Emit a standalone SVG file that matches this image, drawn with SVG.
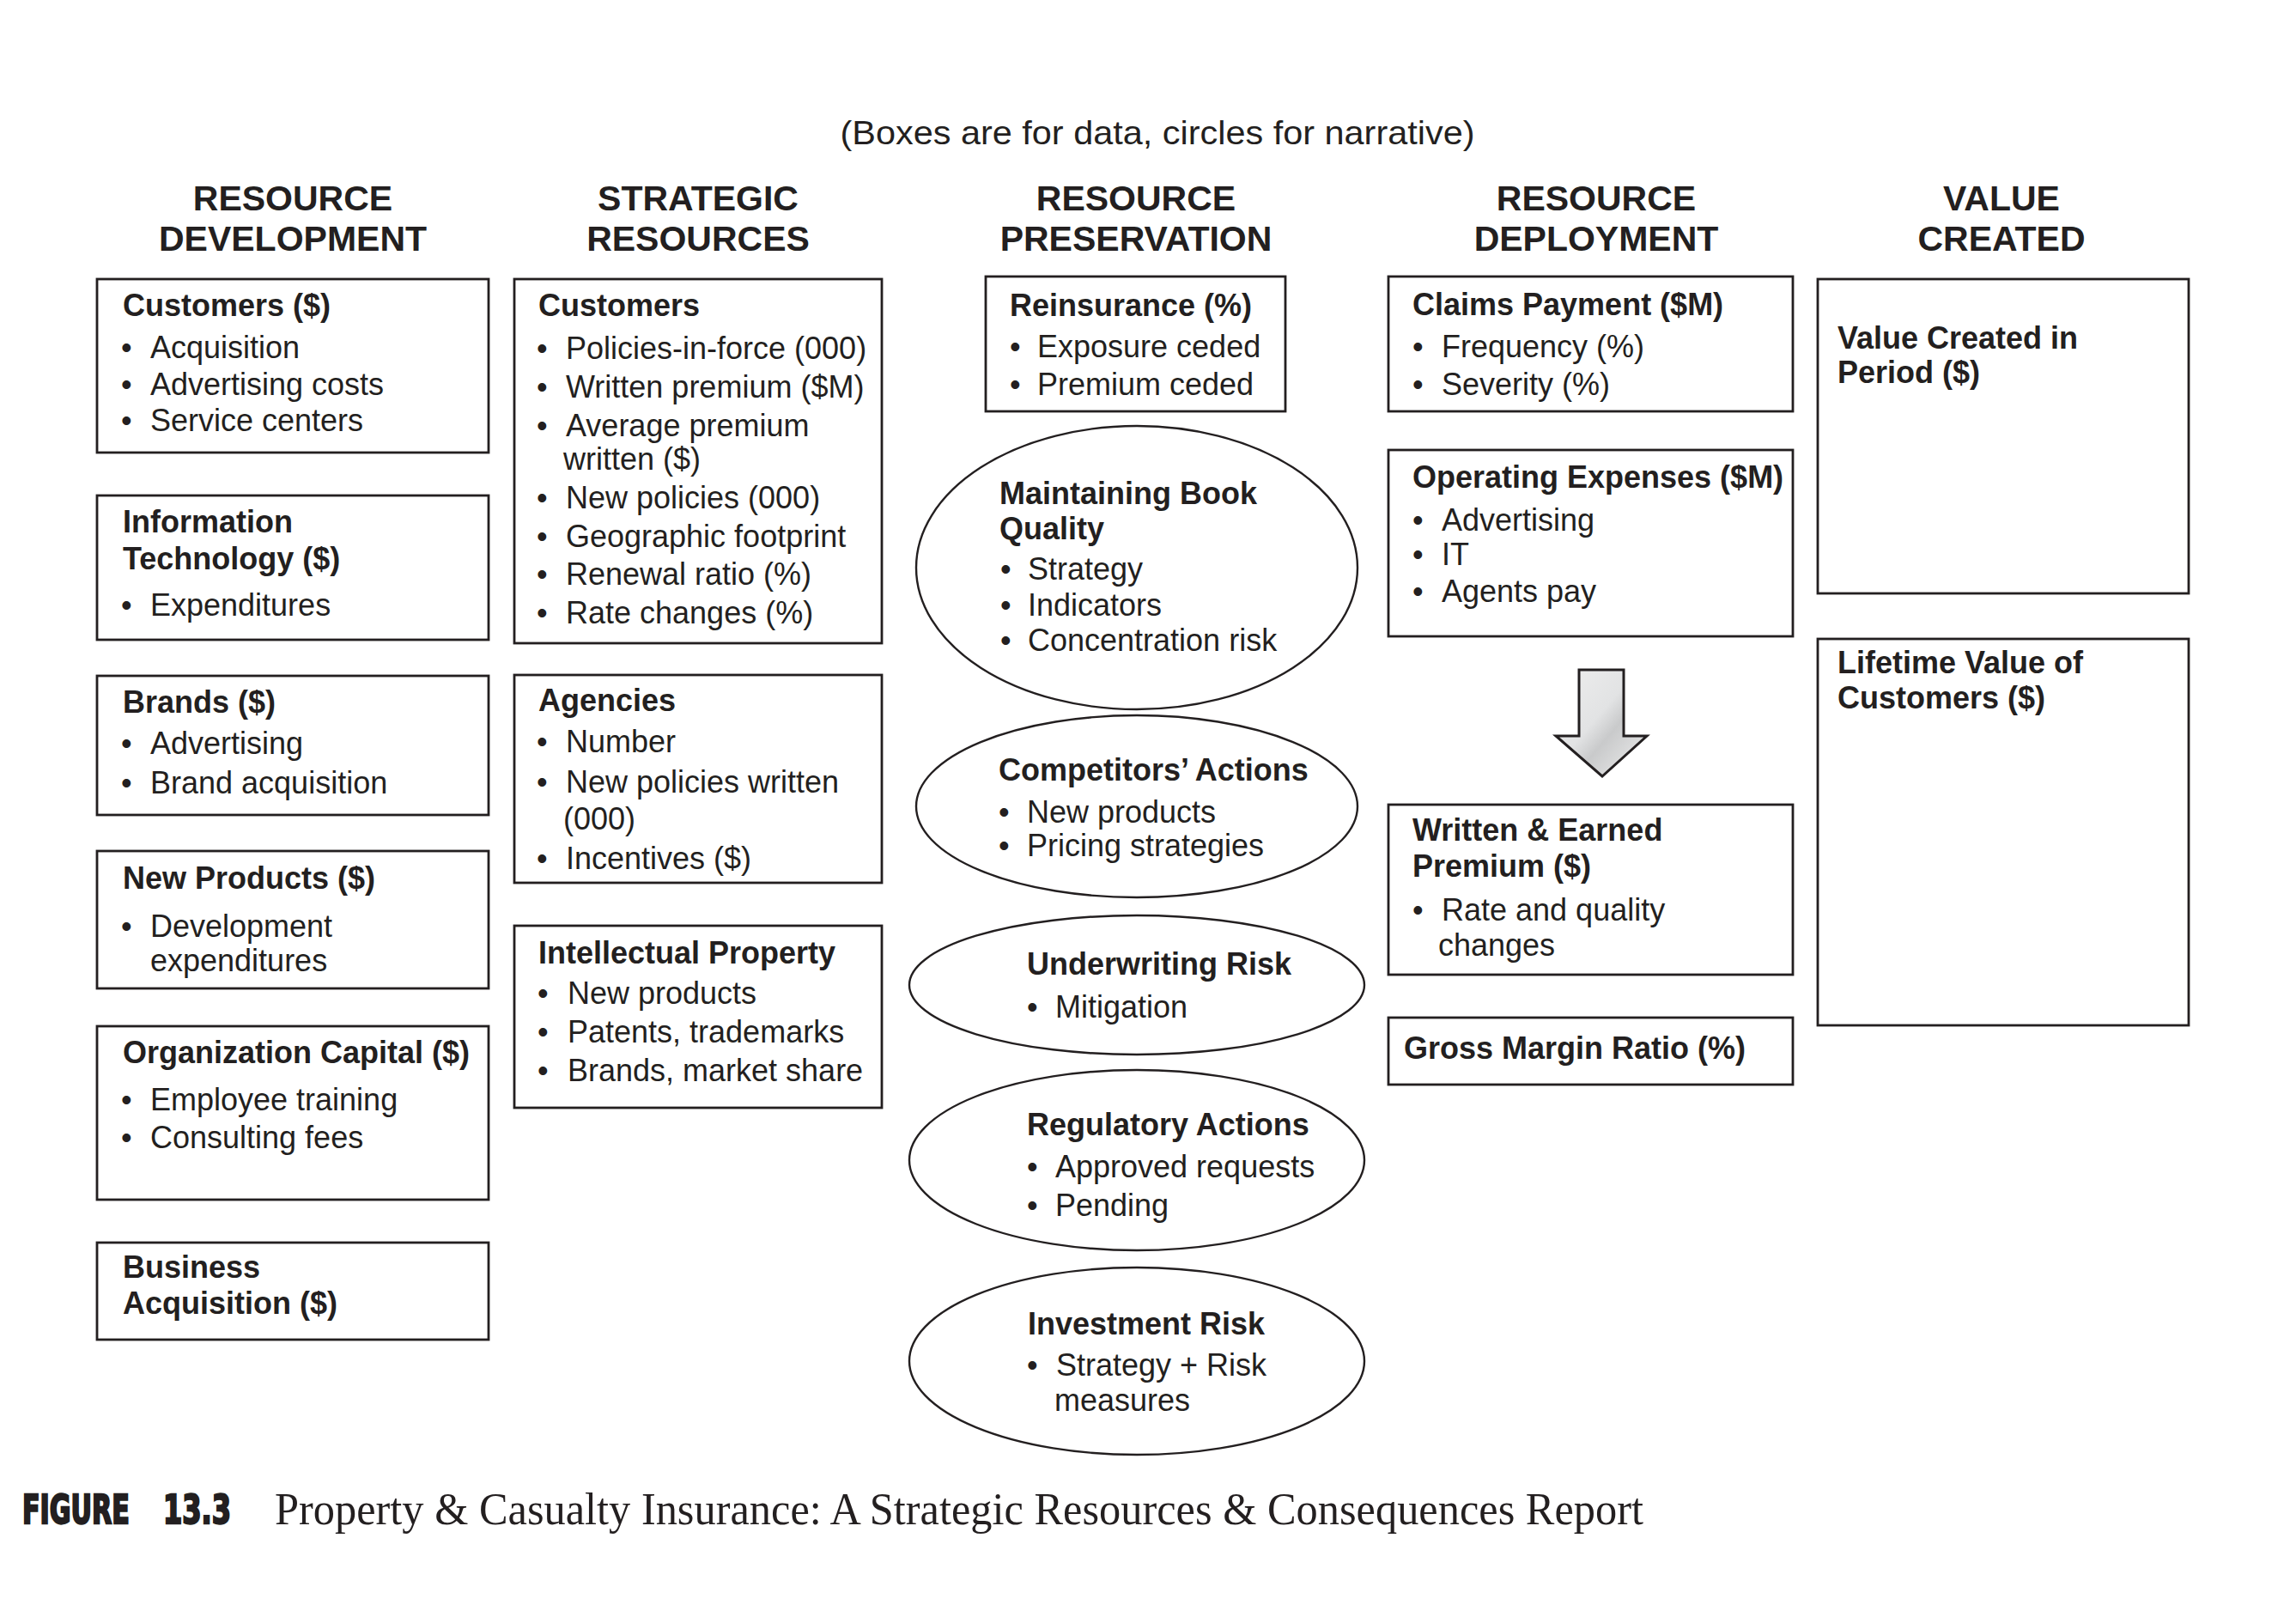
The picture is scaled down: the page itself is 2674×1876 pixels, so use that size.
<svg xmlns="http://www.w3.org/2000/svg" width="2674" height="1876" viewBox="0 0 2674 1876">
<style>
text{fill:#231f20;font-family:"Liberation Sans",Arial,Helvetica,sans-serif;font-size:36px}
.b{font-weight:bold}
.h{font-weight:bold;font-size:41px;text-anchor:middle}
.sub{font-size:39px;text-anchor:middle}
.box{fill:#fff;stroke:#231f20;stroke-width:2.8}
.ell{fill:#fff;stroke:#231f20;stroke-width:2.4}
.cap{font-family:"Liberation Serif","Times New Roman",serif;font-size:52px}
.fig{font-family:"DejaVu Sans Condensed","DejaVu Sans","Liberation Sans",sans-serif;font-stretch:condensed;font-weight:bold;font-size:32px;stroke:#231f20;stroke-width:1.6;stroke-linejoin:miter}
</style>
<defs>
<linearGradient id="ag" x1="0" y1="0" x2="1" y2="1">
<stop offset="0" stop-color="#eeeeee"/>
<stop offset="0.45" stop-color="#e2e3e4"/>
<stop offset="0.6" stop-color="#c9cacb"/>
<stop offset="1" stop-color="#f0f0f0"/>
</linearGradient>
</defs>
<rect width="2674" height="1876" fill="#fff"/>

<g id="titles">
<text class="sub" x="1348" y="168" textLength="739" lengthAdjust="spacingAndGlyphs">(Boxes are for data, circles for narrative)</text>
<text class="h" x="341" y="245">RESOURCE</text>
<text class="h" x="341" y="292">DEVELOPMENT</text>
<text class="h" x="813" y="245">STRATEGIC</text>
<text class="h" x="813" y="292">RESOURCES</text>
<text class="h" x="1323" y="245">RESOURCE</text>
<text class="h" x="1323" y="292">PRESERVATION</text>
<text class="h" x="1859" y="245">RESOURCE</text>
<text class="h" x="1859" y="292">DEPLOYMENT</text>
<text class="h" x="2331" y="245">VALUE</text>
<text class="h" x="2331" y="292">CREATED</text>
</g>

<g id="connectors">
<polygon points="1839,780 1891,780 1891,857 1918,857 1866,904 1812,857 1839,857" fill="url(#ag)" stroke="#231f20" stroke-width="3" stroke-linejoin="miter"/>
</g>

<g id="customers-dev">
<rect class="box" x="113" y="325" width="456" height="202"/>
<text class="b" x="143" y="368">Customers ($)</text>
<text y="417"><tspan x="141">•</tspan><tspan x="175">Acquisition</tspan></text>
<text y="460"><tspan x="141">•</tspan><tspan x="175">Advertising costs</tspan></text>
<text y="502"><tspan x="141">•</tspan><tspan x="175">Service centers</tspan></text>
</g>

<g id="it-dev">
<rect class="box" x="113" y="577" width="456" height="168"/>
<text class="b" x="143" y="620">Information</text>
<text class="b" x="143" y="663">Technology ($)</text>
<text y="717"><tspan x="141">•</tspan><tspan x="175">Expenditures</tspan></text>
</g>

<g id="brands-dev">
<rect class="box" x="113" y="787" width="456" height="162"/>
<text class="b" x="143" y="830">Brands ($)</text>
<text y="878"><tspan x="141">•</tspan><tspan x="175">Advertising</tspan></text>
<text y="924"><tspan x="141">•</tspan><tspan x="175">Brand acquisition</tspan></text>
</g>

<g id="newproducts-dev">
<rect class="box" x="113" y="991" width="456" height="160"/>
<text class="b" x="143" y="1035">New Products ($)</text>
<text y="1091"><tspan x="141">•</tspan><tspan x="175">Development</tspan></text>
<text x="175" y="1131">expenditures</text>
</g>

<g id="orgcapital-dev">
<rect class="box" x="113" y="1195" width="456" height="202"/>
<text class="b" x="143" y="1238">Organization Capital ($)</text>
<text y="1293"><tspan x="141">•</tspan><tspan x="175">Employee training</tspan></text>
<text y="1337"><tspan x="141">•</tspan><tspan x="175">Consulting fees</tspan></text>
</g>

<g id="busacq-dev">
<rect class="box" x="113" y="1447" width="456" height="113"/>
<text class="b" x="143" y="1488">Business</text>
<text class="b" x="143" y="1530">Acquisition ($)</text>
</g>

<g id="customers-sr">
<rect class="box" x="599" y="325" width="428" height="424"/>
<text class="b" x="627" y="368">Customers</text>
<text y="418"><tspan x="625">•</tspan><tspan x="659">Policies-in-force (000)</tspan></text>
<text y="463"><tspan x="625">•</tspan><tspan x="659">Written premium ($M)</tspan></text>
<text y="508"><tspan x="625">•</tspan><tspan x="659">Average premium</tspan></text>
<text x="656" y="547">written ($)</text>
<text y="592"><tspan x="625">•</tspan><tspan x="659">New policies (000)</tspan></text>
<text y="637"><tspan x="625">•</tspan><tspan x="659">Geographic footprint</tspan></text>
<text y="681"><tspan x="625">•</tspan><tspan x="659">Renewal ratio (%)</tspan></text>
<text y="726"><tspan x="625">•</tspan><tspan x="659">Rate changes (%)</tspan></text>
</g>

<g id="agencies-sr">
<rect class="box" x="599" y="786" width="428" height="242"/>
<text class="b" x="627" y="828">Agencies</text>
<text y="876"><tspan x="625">•</tspan><tspan x="659">Number</tspan></text>
<text y="923"><tspan x="625">•</tspan><tspan x="659">New policies written</tspan></text>
<text x="656" y="966">(000)</text>
<text y="1012"><tspan x="625">•</tspan><tspan x="659">Incentives ($)</tspan></text>
</g>

<g id="ip-sr">
<rect class="box" x="599" y="1078" width="428" height="212"/>
<text class="b" x="627" y="1122">Intellectual Property</text>
<text y="1169"><tspan x="626">•</tspan><tspan x="661">New products</tspan></text>
<text y="1214"><tspan x="626">•</tspan><tspan x="661">Patents, trademarks</tspan></text>
<text y="1259"><tspan x="626">•</tspan><tspan x="661">Brands, market share</tspan></text>
</g>

<g id="reinsurance-rp">
<rect class="box" x="1148" y="322" width="349" height="157"/>
<text class="b" x="1176" y="368">Reinsurance (%)</text>
<text y="416"><tspan x="1176">•</tspan><tspan x="1208">Exposure ceded</tspan></text>
<text y="460"><tspan x="1176">•</tspan><tspan x="1208">Premium ceded</tspan></text>
</g>

<g id="bookquality-rp">
<ellipse class="ell" cx="1324" cy="661" rx="257" ry="165"/>
<text class="b" x="1164" y="587">Maintaining Book</text>
<text class="b" x="1164" y="628">Quality</text>
<text y="675"><tspan x="1165">•</tspan><tspan x="1197">Strategy</tspan></text>
<text y="717"><tspan x="1165">•</tspan><tspan x="1197">Indicators</tspan></text>
<text y="758"><tspan x="1165">•</tspan><tspan x="1197">Concentration risk</tspan></text>
</g>

<g id="competitors-rp">
<ellipse class="ell" cx="1324" cy="939" rx="257" ry="106"/>
<text class="b" x="1163" y="909">Competitors’ Actions</text>
<text y="958"><tspan x="1163">•</tspan><tspan x="1196">New products</tspan></text>
<text y="997"><tspan x="1163">•</tspan><tspan x="1196">Pricing strategies</tspan></text>
</g>

<g id="underwriting-rp">
<ellipse class="ell" cx="1324" cy="1147" rx="265" ry="81"/>
<text class="b" x="1196" y="1135">Underwriting Risk</text>
<text y="1185"><tspan x="1196">•</tspan><tspan x="1229">Mitigation</tspan></text>
</g>

<g id="regulatory-rp">
<ellipse class="ell" cx="1324" cy="1351" rx="265" ry="105"/>
<text class="b" x="1196" y="1322">Regulatory Actions</text>
<text y="1371"><tspan x="1196">•</tspan><tspan x="1229">Approved requests</tspan></text>
<text y="1416"><tspan x="1196">•</tspan><tspan x="1229">Pending</tspan></text>
</g>

<g id="investment-rp">
<ellipse class="ell" cx="1324" cy="1585" rx="265" ry="109"/>
<text class="b" x="1197" y="1554">Investment Risk</text>
<text y="1602"><tspan x="1196">•</tspan><tspan x="1230">Strategy + Risk</tspan></text>
<text x="1228" y="1643">measures</text>
</g>

<g id="claims-rd">
<rect class="box" x="1617" y="322" width="471" height="157"/>
<text class="b" x="1645" y="367">Claims Payment ($M)</text>
<text y="416"><tspan x="1645">•</tspan><tspan x="1679">Frequency (%)</tspan></text>
<text y="460"><tspan x="1645">•</tspan><tspan x="1679">Severity (%)</tspan></text>
</g>

<g id="opex-rd">
<rect class="box" x="1617" y="524" width="471" height="217"/>
<text class="b" x="1645" y="568">Operating Expenses ($M)</text>
<text y="618"><tspan x="1645">•</tspan><tspan x="1679">Advertising</tspan></text>
<text y="658"><tspan x="1645">•</tspan><tspan x="1679">IT</tspan></text>
<text y="701"><tspan x="1645">•</tspan><tspan x="1679">Agents pay</tspan></text>
</g>

<g id="premium-rd">
<rect class="box" x="1617" y="937" width="471" height="198"/>
<text class="b" x="1645" y="979">Written &amp; Earned</text>
<text class="b" x="1645" y="1021">Premium ($)</text>
<text y="1072"><tspan x="1645">•</tspan><tspan x="1679">Rate and quality</tspan></text>
<text x="1675" y="1113">changes</text>
</g>

<g id="grossmargin-rd">
<rect class="box" x="1617" y="1185" width="471" height="78"/>
<text class="b" x="1635" y="1233">Gross Margin Ratio (%)</text>
</g>

<g id="valueperiod-vc">
<rect class="box" x="2117" y="325" width="432" height="366"/>
<text class="b" x="2140" y="406">Value Created in</text>
<text class="b" x="2140" y="446">Period ($)</text>
</g>

<g id="lifetime-vc">
<rect class="box" x="2117" y="744" width="432" height="450"/>
<text class="b" x="2140" y="784">Lifetime Value of</text>
<text class="b" x="2140" y="825">Customers ($)</text>
</g>

<g id="caption">
<text class="fig" transform="translate(0 1774) scale(1 1.47)"><tspan x="26" y="0" textLength="125" lengthAdjust="spacingAndGlyphs">FIGURE</tspan><tspan x="190" y="0" textLength="79" lengthAdjust="spacingAndGlyphs">13.3</tspan></text>
<text class="cap" x="320" y="1775" textLength="1594" lengthAdjust="spacingAndGlyphs">Property &amp; Casualty Insurance: A Strategic Resources &amp; Consequences Report</text>
</g>
</svg>
